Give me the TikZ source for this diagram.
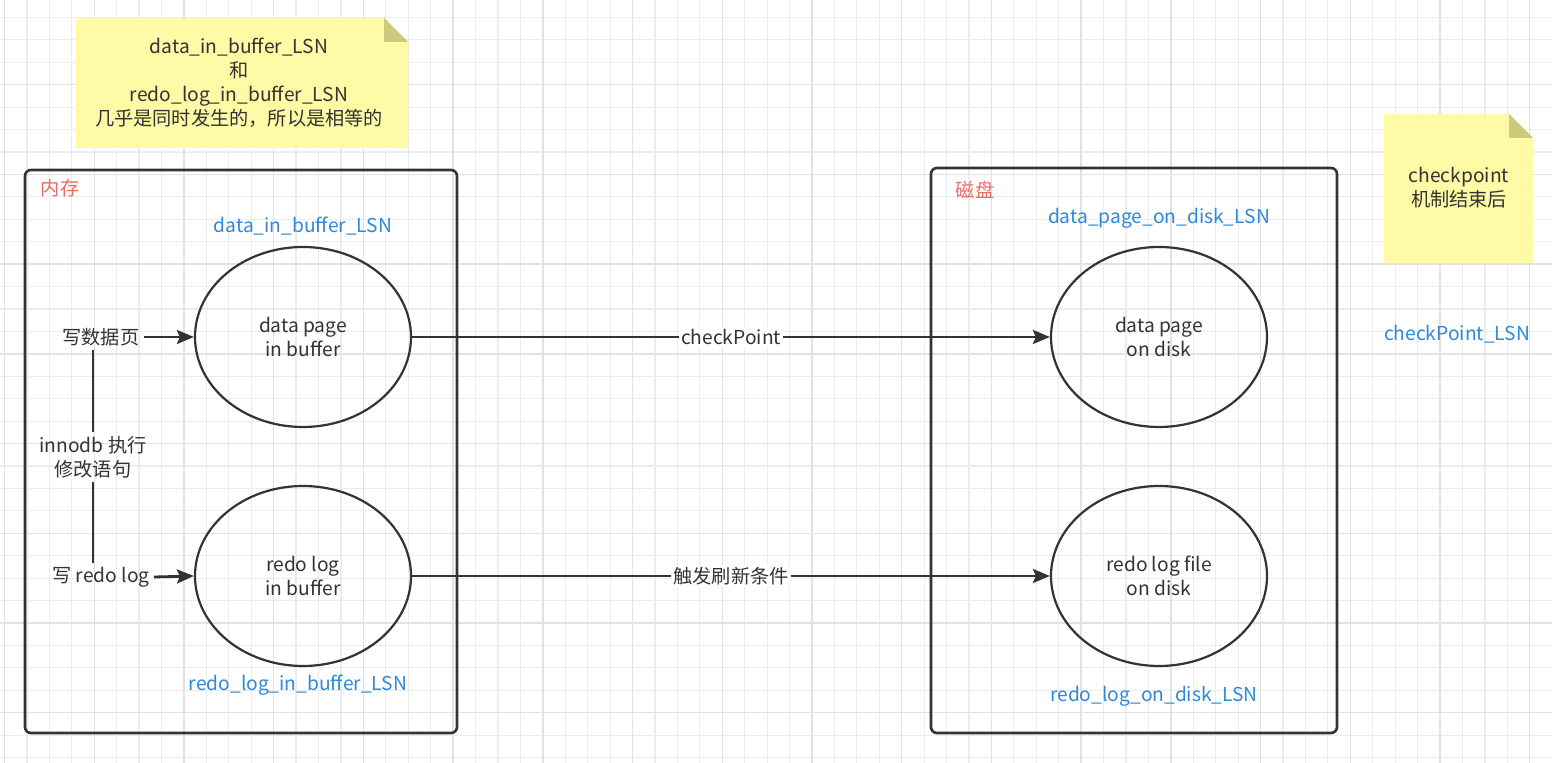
\documentclass[tikz,border=0pt]{standalone}
\usepackage{fontspec}
\setmainfont{Noto Sans CJK SC}
\usetikzlibrary{shapes.geometric,arrows.meta}
\definecolor{ink}{HTML}{333333}
\definecolor{lsnblue}{HTML}{2F88D8}
\definecolor{zonered}{HTML}{EA6B66}
\definecolor{memofill}{HTML}{FFFAA5}
\definecolor{memofold}{HTML}{CCCA7F}
\definecolor{gridminor}{HTML}{ECECEC}
\definecolor{gridmajor}{HTML}{E2E2E2}
\tikzset{
    txt/.style={text=ink, font=\fontsize{9.6}{12}\selectfont, align=center, inner sep=2pt},
    lsn/.style={txt, text=lsnblue},
    zone/.style={txt, text=zonered},
    store/.style={ellipse, draw=ink, line width=1.1pt, minimum width=108pt, minimum height=90pt, inner sep=0pt, txt},
    panel/.style={draw=ink, line width=1.3pt, rounded corners=3pt},
    flow/.style={draw=ink, line width=1.4pt, -{Stealth[length=8.5pt,width=7pt,inset=1.5pt]}},
    link/.style={draw=ink, line width=1.4pt},
    cross/.style={txt, fill=white, inner sep=1pt}
}
\begin{document}
\begin{tikzpicture}[x=0.5pt,y=-0.5pt]
        \useasboundingbox (0,0) rectangle (1552,763);
        \fill[white] (0,0) rectangle (1552,763);
        \foreach \i in {0,...,69} {
            \draw[gridminor, line width=0.6pt] ({4.5+22.43*\i},0) -- ({4.5+22.43*\i},763);
        }
        \foreach \j in {0,...,34} {
            \draw[gridminor, line width=0.6pt] (0,{17.4+22.43*\j}) -- (1552,{17.4+22.43*\j});
        }
        \foreach \i in {0,...,17} {
            \draw[gridmajor, line width=0.7pt] ({4.5+89.72*\i},0) -- ({4.5+89.72*\i},763);
        }
        \foreach \j in {1,...,9} {
            \draw[gridmajor, line width=0.7pt] (0,{-5+89.72*\j}) -- (1552,{-5+89.72*\j});
        }

        \fill[memofill] (76,18) -- (384,18) -- (408,42) -- (408,148) -- (76,148) -- cycle;
        \fill[memofold] (384,18) -- (408,42) -- (384,42) -- cycle;
        \fill[memofill] (1384,114) -- (1509,114) -- (1533,138) -- (1533,263) -- (1384,263) -- cycle;
        \fill[memofold] (1509,114) -- (1533,138) -- (1509,138) -- cycle;

        \node[txt] (memo_lsn) at (239,83) {data\_in\_buffer\_LSN\\和\\redo\_log\_in\_buffer\_LSN\\几乎是同时发生的，所以是相等的};
        \node[txt] (memo_ckpt) at (1459,188) {checkpoint\\机制结束后};

        \draw[panel] (25,170) rectangle (457,733);
        \draw[panel] (931,168) rectangle (1337,733);
        \node[zone] (mem) at (60,188) {内存};
        \node[zone] (disk) at (975,190) {磁盘};

        \node[store] (page_buf) at (303,337) {data page\\in buffer};
        \node[store] (redo_buf) at (303,576) {redo log\\in buffer};
        \node[store] (page_disk) at (1159,337) {data page\\on disk};
        \node[store] (redo_disk) at (1159,576) {redo log file\\on disk};

        \node[lsn] (lsn_page_buf) at (303,226) {data\_in\_buffer\_LSN};
        \node[lsn] (lsn_redo_buf) at (298,685) {redo\_log\_in\_buffer\_LSN};
        \node[lsn] (lsn_page_disk) at (1159,218) {data\_page\_on\_disk\_LSN};
        \node[lsn] (lsn_redo_disk) at (1154,696) {redo\_log\_on\_disk\_LSN};
        \node[lsn] (lsn_ckpt) at (1457,334) {checkPoint\_LSN};

        \node[txt] (write_page) at (101,337) {写数据页};
        \node[txt] (write_redo) at (101,577) {写 redo log};
        \node[txt] (innodb) at (93,457) {innodb 执行\\修改语句};

        \draw[link] (innodb.north) -- (innodb.north |- write_page.south);
        \draw[link] (innodb.south) -- (innodb.south |- write_redo.north);
        \draw[flow] (write_page.east) -- (page_buf.west);
        \draw[flow] (write_redo.east) -- (redo_buf.west);
        \draw[flow] (page_buf.east) -- node[cross] (ckpt) {checkPoint} (page_disk.west);
        \draw[flow] (redo_buf.east) -- node[cross] (flush) {触发刷新条件} (redo_disk.west);
\end{tikzpicture}
\end{document}
